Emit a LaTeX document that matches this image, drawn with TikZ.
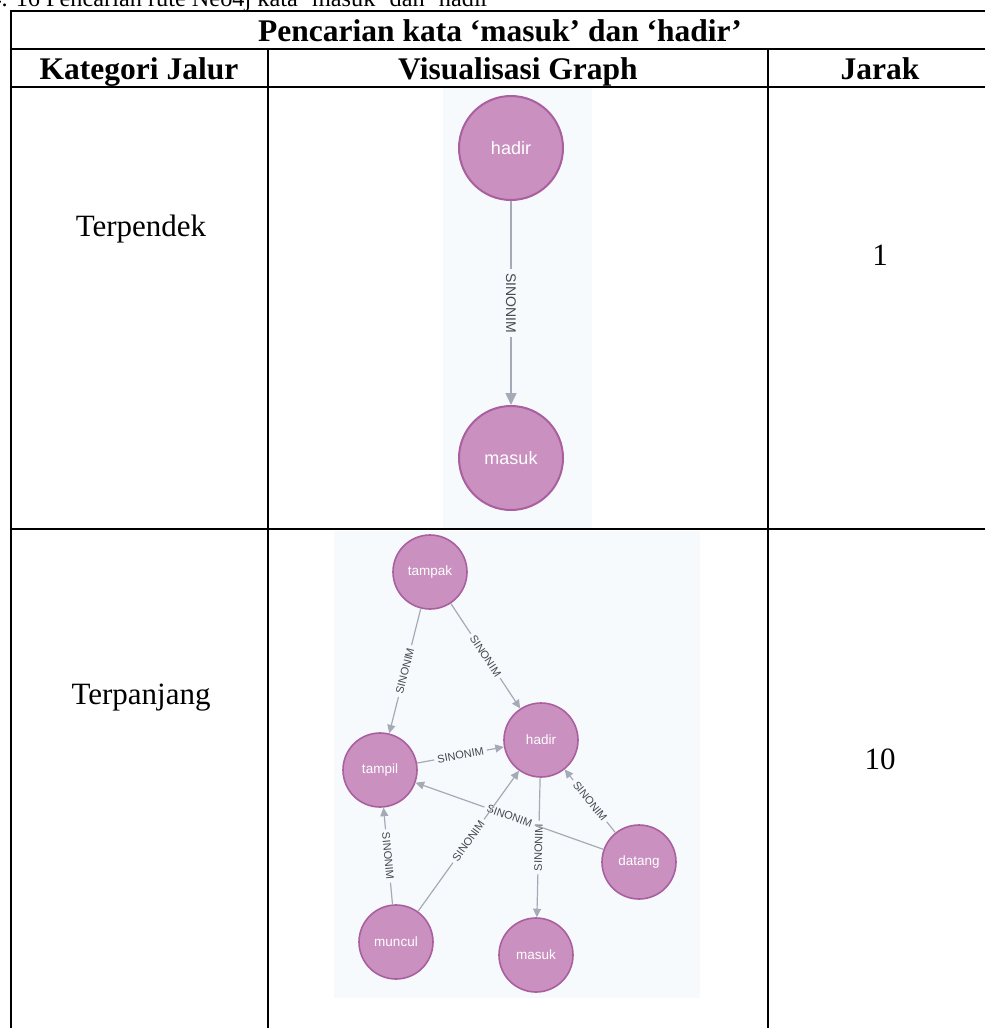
\documentclass[tikz,border=0pt]{standalone}
\usepackage{fontspec}
\setmainfont{Liberation Serif}
\newfontfamily\graphfont{Liberation Sans}
\usetikzlibrary{arrows.meta}

\definecolor{nodefill}{RGB}{201,144,192}
\definecolor{nodeline}{RGB}{170,95,158}
\definecolor{edgecol}{RGB}{165,171,182}
\definecolor{canvas}{RGB}{247,250,253}
\definecolor{lbltext}{RGB}{70,72,78}

\tikzset{
  rule/.style={line width=2.4pt, black, line cap=rect},
  headtxt/.style={font=\fontsize{31.5}{36}\selectfont\bfseries, inner sep=0pt, anchor=base},
  bodytxt/.style={font=\fontsize{31}{36}\selectfont, inner sep=0pt, anchor=base},
  captxt/.style={font=\fontsize{24.3}{28}\selectfont, inner sep=0pt},
  bignode/.style={circle, fill=nodefill, draw=nodeline, line width=2pt,
    minimum size=104pt, inner sep=0pt, text=white,
    font=\graphfont\fontsize{18}{20}\selectfont},
  smallnode/.style={circle, fill=nodefill, draw=nodeline, line width=1.6pt,
    minimum size=74pt, inner sep=0pt, text=white,
    font=\graphfont\fontsize{13.5}{15}\selectfont},
  bigedge/.style={draw=edgecol, line width=1.5pt},
  smalledge/.style={draw=edgecol, line width=1.2pt},
  bigarr/.style={-{Triangle[length=12pt,width=11pt]}},
  smallarr/.style={-{Triangle[length=8.5pt,width=8pt]}},
  biglbl/.style={text=lbltext, font=\graphfont\fontsize{14}{16}\selectfont, inner sep=4pt},
  smalllbl/.style={text=lbltext, font=\graphfont\fontsize{11}{13}\selectfont, inner sep=3pt},
}

\begin{document}
\begin{tikzpicture}[x=1pt, y=-1pt]
\useasboundingbox (0,0) rectangle (985,1028);
\clip (0,0) rectangle (985,1028);
\fill[white] (0,0) rectangle (985,1028);

% caption line above the table (cut at the top of the page)
\node[captxt, anchor=base east] (cap) at (498,6) {4. 16 Pencarian rute Neo4j kata ‘masuk’ dan ‘hadir’};

% graph canvases
\fill[canvas] (443,88) rectangle (592,528);
\fill[canvas] (334,531) rectangle (700,998);

% table rules
\draw[rule] (11,1040) -- (11,11) -- (1000,11);
\draw[rule] (11,49) -- (1000,49);
\draw[rule] (11,87) -- (1000,87);
\draw[rule] (11,529) -- (1000,529);
\draw[rule] (268,49) -- (268,1040);
\draw[rule] (768,49) -- (768,1040);

% header cells
\node[headtxt] (title) at (500,41) {Pencarian kata ‘masuk’ dan ‘hadir’};
\node[headtxt] (h1) at (139,79) {Kategori Jalur};
\node[headtxt] (h2) at (518,79) {Visualisasi Graph};
\node[headtxt] (h3) at (880,79) {Jarak};

% body cells
\node[bodytxt] (r1a) at (141,236) {Terpendek};
\node[bodytxt] (r1c) at (880,265) {1};
\node[bodytxt] (r2a) at (141,704) {Terpanjang};
\node[bodytxt] (r2c) at (880,769) {10};

% shortest path graph
\node[bignode] (th) at (511,148) {hadir};
\node[bignode] (tm) at (511,458) {masuk};
\path (th) -- (tm) coordinate[pos=0.5] (tmid);
\node[biglbl, rotate=-90] (tl) at (tmid) {SINONIM};
\draw[bigedge] (th) -- (tl);
\draw[bigedge, bigarr] (tl) -- (tm);

% longest path graph
\node[smallnode] (bp) at (430,572) {tampak};
\node[smallnode] (bh) at (541,740) {hadir};
\node[smallnode] (bt) at (380,770) {tampil};
\node[smallnode] (bd) at (639,862) {datang};
\node[smallnode] (bc) at (396,942) {muncul};
\node[smallnode] (bm) at (536,955) {masuk};

\path (bp) -- (bt) coordinate[pos=0.5] (m1);
\path (bp) -- (bh) coordinate[pos=0.5] (m2);
\path (bt) -- (bh) coordinate[pos=0.5] (m3);
\path (bd) -- (bh) coordinate[pos=0.5] (m4);
\path (bd) -- (bt) coordinate[pos=0.5] (m5);
\path (bh) -- (bm) coordinate[pos=0.5] (m6);
\path (bc) -- (bt) coordinate[pos=0.5] (m7);
\path (bc) -- (bh) coordinate[pos=0.5] (m8);

\node[smalllbl, rotate=75.8] (l1) at (m1) {SINONIM};
\node[smalllbl, rotate=-56.5] (l2) at (m2) {SINONIM};
\node[smalllbl, rotate=10.6] (l3) at (m3) {SINONIM};
\node[smalllbl, rotate=-51.2] (l4) at (m4) {SINONIM};
\node[smalllbl, rotate=-19.6] (l5) at (m5) {SINONIM};
\node[smalllbl, rotate=88.7] (l6) at (m6) {SINONIM};
\node[smalllbl, rotate=-84.7] (l7) at (m7) {SINONIM};
\node[smalllbl, rotate=54.3] (l8) at (m8) {SINONIM};

\draw[smalledge] (bp) -- (l1); \draw[smalledge, smallarr] (l1) -- (bt);
\draw[smalledge] (bp) -- (l2); \draw[smalledge, smallarr] (l2) -- (bh);
\draw[smalledge] (bt) -- (l3); \draw[smalledge, smallarr] (l3) -- (bh);
\draw[smalledge] (bd) -- (l4); \draw[smalledge, smallarr] (l4) -- (bh);
\draw[smalledge] (bd) -- (l5); \draw[smalledge, smallarr] (l5) -- (bt);
\draw[smalledge] (bh) -- (l6); \draw[smalledge, smallarr] (l6) -- (bm);
\draw[smalledge] (bc) -- (l7); \draw[smalledge, smallarr] (l7) -- (bt);
\draw[smalledge] (bc) -- (l8); \draw[smalledge, smallarr] (l8) -- (bh);
\end{tikzpicture}
\end{document}
